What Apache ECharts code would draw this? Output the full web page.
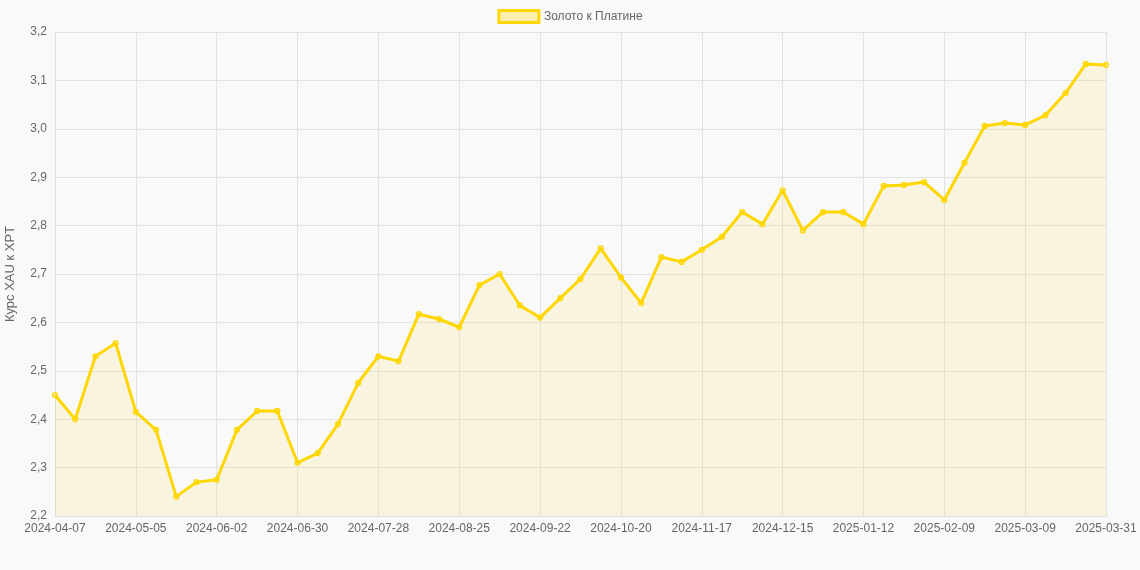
<!DOCTYPE html>
<html>
<head>
<meta charset="utf-8">
<script src="https://cdn.jsdelivr.net/npm/echarts@6/dist/echarts.min.js"></script>
<style>html,body{margin:0;padding:0;background:#f9f9f9;}#main{width:1140px;height:570px;}</style>
</head>
<body>
<div id="main"></div>
<script>
var dates = ['2024-04-07','2024-04-14','2024-04-21','2024-04-28','2024-05-05','2024-05-12','2024-05-19','2024-05-26',
  '2024-06-02','2024-06-09','2024-06-16','2024-06-23','2024-06-30','2024-07-07','2024-07-14','2024-07-21',
  '2024-07-28','2024-08-04','2024-08-11','2024-08-18','2024-08-25','2024-09-01','2024-09-08','2024-09-15',
  '2024-09-22','2024-09-29','2024-10-06','2024-10-13','2024-10-20','2024-10-27','2024-11-03','2024-11-10',
  '2024-11-17','2024-11-24','2024-12-01','2024-12-08','2024-12-15','2024-12-22','2024-12-29','2025-01-05',
  '2025-01-12','2025-01-19','2025-01-26','2025-02-02','2025-02-09','2025-02-16','2025-02-23','2025-03-02',
  '2025-03-09','2025-03-16','2025-03-23','2025-03-30','2025-03-31'];
var ratio = [2.45,2.40,2.53,2.557,2.415,2.378,2.24,2.27,2.275,2.378,2.417,2.417,2.31,2.33,2.39,2.475,
  2.53,2.52,2.617,2.607,2.59,2.677,2.70,2.635,2.61,2.65,2.69,2.753,2.693,2.64,2.735,2.725,
  2.75,2.777,2.828,2.803,2.873,2.79,2.828,2.828,2.803,2.882,2.884,2.89,2.853,2.93,3.006,3.012,
  3.008,3.028,3.074,3.134,3.132];
var seriesName = 'Золото к Платине';

var chart = echarts.init(document.getElementById('main'));
chart.setOption({
    backgroundColor:'#f9f9f9',
    animation:false,
    textStyle:{fontFamily:'Liberation Sans, Arial, sans-serif'},
    legend:{
        top:4,
        data:[seriesName],
        icon:'rect',
        itemWidth:40,
        itemHeight:12,
        textStyle:{color:'#666',fontSize:12},
        itemStyle:{color:'rgba(255,215,0,0.3)',borderColor:'#FFD700',borderWidth:3}
    },
    grid:{left:55,right:34,top:32,bottom:54,outerBoundsMode:'none',containLabel:false},
    xAxis:{
        type:'category',
        boundaryGap:false,
        data:dates,
        axisTick:{show:false},
        axisLine:{lineStyle:{color:'#ddd'}},
        axisLabel:{interval:3,color:'#666',fontSize:12,margin:7},
        splitLine:{show:true,interval:3,lineStyle:{color:'#e2e2e2'}}
    },
    yAxis:{
        type:'value',
        min:2.2,
        max:3.2,
        interval:0.1,
        name:'Курс XAU к XPT',
        nameLocation:'middle',
        nameGap:38,
        nameTextStyle:{color:'#666',fontSize:13},
        axisLine:{show:true,lineStyle:{color:'#ddd'}},
        axisLabel:{color:'#666',fontSize:12,formatter:function(v){return v.toFixed(1).replace('.',',');}},
        splitLine:{lineStyle:{color:'#e2e2e2'}}
    },
    series:[{
        name:seriesName,
        type:'line',
        data:ratio,
        symbol:'circle',
        symbolSize:5,
        itemStyle:{color:'rgba(255,215,0,0.3)',borderColor:'#FFD700',borderWidth:1.2},
        lineStyle:{color:'#FFD700',width:3},
        areaStyle:{color:'rgba(245,220,80,0.2)'}
    }]
});
</script>
</body>
</html>
